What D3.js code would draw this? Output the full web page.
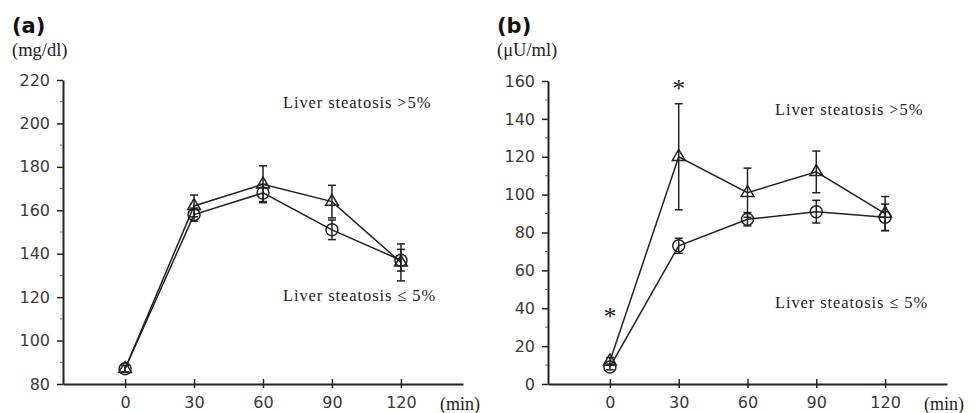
<!DOCTYPE html>
<html lang="en">
<head>
<meta charset="UTF-8">
<title>OGTT glucose and insulin</title>
<script src="https://d3js.org/d3.v7.min.js"></script>
<style>
  body { margin:0; background:#fff; }
  svg { display:block; }
  .tick text { font-family:"DejaVu Sans", Verdana, sans-serif; font-size:16px; fill:#3a3a3a; }
  .serif { font-family:"Liberation Serif", "Times New Roman", serif; fill:#222; }
</style>
</head>
<body>
<svg width="978" height="413"></svg>
<script>
// time points (min)
const times = [0, 30, 60, 90, 120];

// (a) glucose, mg/dl
const gluLow = [87, 158, 168, 151, 137];      // liver steatosis <= 5% (circles)
const gluLowErr = [1.5, 3, 4, 4.5, 5];
const gluHigh = [87, 162, 172, 164, 136];     // liver steatosis > 5% (triangles)
const gluHighErr = [1.5, 5, 8.5, 7.5, 8.5];
const gluTicks = [80, 100, 120, 140, 160, 180, 200, 220];

// (b) insulin, uU/ml
const insLow = [9, 73, 87, 91, 88];
const insLowErr = [1.5, 4, 3.5, 6, 7];
const insHigh = [12, 120, 101, 112, 90];
const insHighErr = [2, 28, 13, 11, 9];
const insTicks = [0, 20, 40, 60, 80, 100, 120, 140, 160];
const insStars = [0, 30];

const svg = d3.select("svg");
const ink = "#222";

function panel(opt) {
  const g = svg.append("g");
  const x = d3.scaleLinear().domain([-27, 147]).range([opt.left, opt.right]);
  const y = d3.scaleLinear().domain(opt.ydom).range([384, opt.top]);

  // y axis with major ticks
  const ya = g.append("g").attr("transform", "translate(" + opt.left + ",0)")
    .call(d3.axisLeft(y).tickValues(opt.yticks).tickSize(6).tickPadding(7).tickSizeOuter(0));
  ya.select(".domain").attr("stroke", ink).attr("stroke-width", 2);
  ya.selectAll(".tick line").attr("stroke", ink).attr("stroke-width", 1.5);
  // minor ticks
  const minor = d3.range(opt.ydom[0] + 10, opt.ydom[1], 20);
  g.selectAll(".minor").data(minor).join("line")
    .attr("x1", opt.left - 3).attr("x2", opt.left)
    .attr("y1", d => y(d)).attr("y2", d => y(d))
    .attr("stroke", "#666").attr("stroke-width", 1);

  // x axis
  const xa = g.append("g").attr("transform", "translate(0,384)")
    .call(d3.axisBottom(x).tickValues(times).tickSize(4).tickPadding(9).tickSizeOuter(0));
  xa.select(".domain").attr("stroke", ink).attr("stroke-width", 2);
  xa.selectAll(".tick line").attr("stroke", ink).attr("stroke-width", 1.5).attr("y1", -5);

  g.append("text").attr("class", "serif").attr("x", opt.right - 23).attr("y", 410)
    .style("font-size", "18px").text("(min)");

  // panel letter and unit
  g.append("text").attr("x", opt.left - 51).attr("y", 33)
    .style("font-family", "'DejaVu Sans', Arial, sans-serif").style("font-weight", "bold")
    .style("font-size", "21px").attr("fill", "#111").text(opt.letter);
  g.append("text").attr("class", "serif").attr("x", opt.left - 51).attr("y", 56)
    .style("font-size", "18.5px").text(opt.unit);

  // labels of groups
  g.append("text").attr("class", "serif").attr("x", opt.labelX).attr("y", opt.hiY)
    .style("font-size", "16.5px").style("letter-spacing", "0.9px").text("Liver steatosis >5%");
  g.append("text").attr("class", "serif").attr("x", opt.labelX).attr("y", opt.loY)
    .style("font-size", "16.5px").style("letter-spacing", "0.9px").text("Liver steatosis \u2264 5%");

  const line = d3.line().x((d, i) => x(times[i])).y(d => y(d));
  [opt.high, opt.low].forEach(s => {
    g.append("path").attr("d", line(s)).attr("fill", "none")
      .attr("stroke", ink).attr("stroke-width", 1.5);
  });

  // error bars
  function errs(vals, err) {
    const eg = g.append("g").attr("stroke", ink).attr("stroke-width", 1.5);
    vals.forEach((v, i) => {
      const cx = x(times[i]);
      eg.append("line").attr("x1", cx).attr("x2", cx).attr("y1", y(v - err[i])).attr("y2", y(v + err[i]));
      [v - err[i], v + err[i]].forEach(e => {
        eg.append("line").attr("x1", cx - 4).attr("x2", cx + 4).attr("y1", y(e)).attr("y2", y(e));
      });
    });
  }
  errs(opt.high, opt.highErr);
  errs(opt.low, opt.lowErr);

  // markers
  g.selectAll(".tri").data(opt.high).join("path")
    .attr("transform", (d, i) => "translate(" + x(times[i]) + "," + y(d) + ")")
    .attr("d", d3.symbol().type(d3.symbolTriangle).size(70))
    .attr("fill", "none").attr("stroke", ink).attr("stroke-width", 1.5);
  g.selectAll(".circ").data(opt.low).join("circle")
    .attr("cx", (d, i) => x(times[i])).attr("cy", d => y(d)).attr("r", 6)
    .attr("fill", "none").attr("stroke", ink).attr("stroke-width", 1.5);

  return { x: x, y: y, g: g };
}

panel({
  left: 63, right: 463, top: 80, ydom: [80, 220], yticks: gluTicks,
  letter: "(a)", unit: "(mg/dl)", labelX: 283, hiY: 108, loY: 301,
  low: gluLow, lowErr: gluLowErr, high: gluHigh, highErr: gluHighErr
});

const pb = panel({
  left: 548, right: 947, top: 81, ydom: [0, 160], yticks: insTicks,
  letter: "(b)", unit: "(\u03bcU/ml)", labelX: 775, hiY: 115, loY: 308,
  low: insLow, lowErr: insLowErr, high: insHigh, highErr: insHighErr
});

// significance marks
pb.g.selectAll(".star").data(insStars).join("text")
  .attr("x", d => pb.x(d)).attr("y", (d, i) => i === 0 ? 325 : 97)
  .attr("text-anchor", "middle").attr("class", "serif")
  .style("font-size", "26px").text("*");
</script>
</body>
</html>
